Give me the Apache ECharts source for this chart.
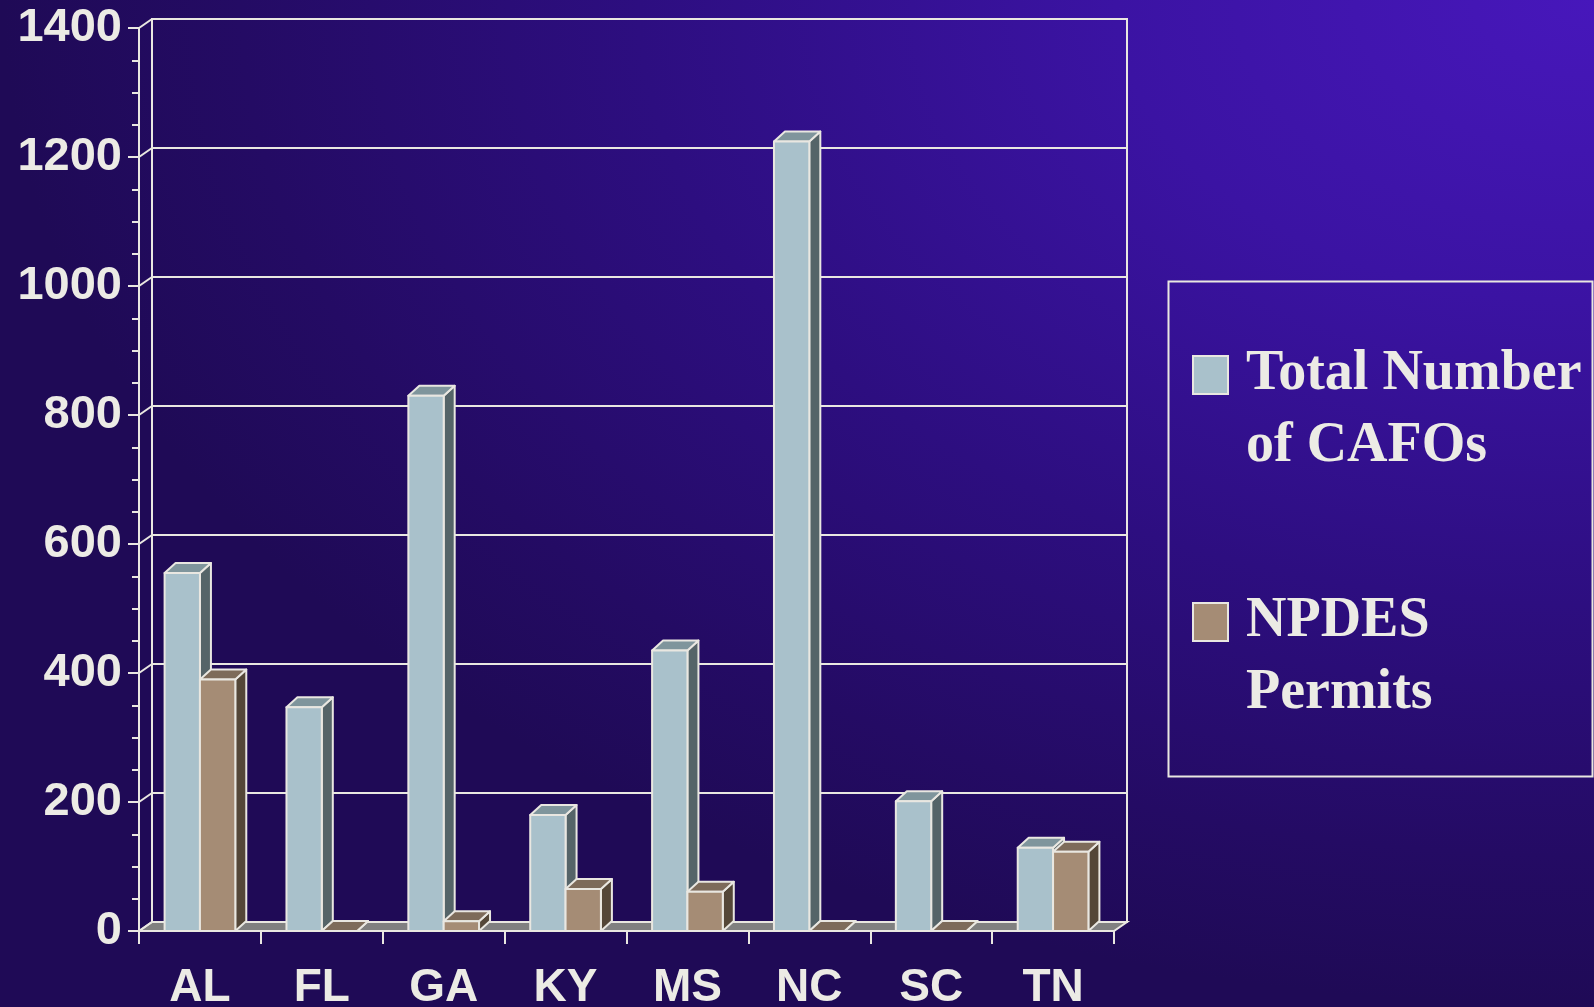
<!DOCTYPE html>
<html><head><meta charset="utf-8">
<script src="https://cdn.jsdelivr.net/npm/echarts@6/dist/echarts.min.js"></script>
<style>html,body{margin:0;padding:0;background:#1f0a55;}#c{width:1594px;height:1007px;}</style>
</head><body><div id="c"></div>
<script>
// ---- data ----
const states = ['AL', 'FL', 'GA', 'KY', 'MS', 'NC', 'SC', 'TN'];
const cafos = [555, 347, 830, 180, 435, 1224, 201, 129];
const npdes = [390, 0, 15, 65, 61, 0, 0, 123];
const yTicks = [0, 200, 400, 600, 800, 1000, 1200, 1400];
const seriesNames = ['Total Number of CAFOs', 'NPDES Permits'];
const legendLines = ['Total Number\nof CAFOs', 'NPDES\nPermits'];

// ---- style ----
const EDGE = '#e9e7e1';
const TEXT = '#ecebe5';
const faces = [
  { front: '#a9c1cb', top: '#7f959c', side: '#556468' },
  { front: '#a58c75', top: '#7d6b5a', side: '#544738' }
];
const WALL_DX = 13, WALL_DY = -9;
const BAR_DX = 11, BAR_DY = -10;

function barRender(si) {
  return function (params, api) {
    const idx = api.value(0), val = api.value(1);
    const base = api.coord([idx, 0]);
    const topP = api.coord([idx, val]);
    const cw = api.size([1, 0])[0];
    const bw = cw * 0.29;
    const xl = base[0] - bw + si * bw;
    const xr = xl + bw;
    const yb = base[1], yt = topP[1];
    const c = faces[si];
    const st = { stroke: EDGE, lineWidth: 2, lineJoin: 'round' };
    return {
      type: 'group',
      children: [
        { type: 'polygon', shape: { points: [[xr, yb], [xr + BAR_DX, yb + BAR_DY], [xr + BAR_DX, yt + BAR_DY], [xr, yt]] }, style: Object.assign({ fill: c.side }, st) },
        { type: 'polygon', shape: { points: [[xl, yt], [xl + BAR_DX, yt + BAR_DY], [xr + BAR_DX, yt + BAR_DY], [xr, yt]] }, style: Object.assign({ fill: c.top }, st) },
        { type: 'rect', shape: { x: xl, y: yt, width: bw, height: yb - yt }, style: Object.assign({ fill: c.front }, st) }
      ]
    };
  };
}

const chart = echarts.init(document.getElementById('c'), null, { renderer: 'canvas' });
const yMax = yTicks[yTicks.length - 1];
const yInt = yTicks[1] - yTicks[0];

chart.setOption({
  backgroundColor: '#1f0a55',
  animation: false,
  graphic: [
    {
      type: 'group', x: 0, y: 0, scaleX: 1.58, z: -100, silent: true,
      children: [{
        type: 'rect', z: -100,
        shape: { x: 0, y: 0, width: 1594 / 1.58, height: 1007 },
        style: {
          fill: {
            type: 'radial', x: 1, y: 0, r: 1,
            colorStops: [
              { offset: 0, color: '#4717bb' },
              { offset: 0.3, color: '#3b13a3' },
              { offset: 0.6, color: '#2d0e80' },
              { offset: 0.85, color: '#240b64' },
              { offset: 1, color: '#1f0a56' }
            ]
          }
        }
      }]
    },
    {
      type: 'rect', left: 1166, top: 279, z: 5, silent: true,
      shape: { width: 424, height: 495 },
      style: { fill: 'none', stroke: EDGE, lineWidth: 2 }
    }
  ],
  grid: [
    { left: 139, right: 480, top: 28, bottom: 76, outerBoundsMode: 'none', containLabel: false },
    { left: 139 + WALL_DX, right: 480 - WALL_DX, top: 28 + WALL_DY, bottom: 76 - WALL_DY,
      outerBoundsMode: 'none', containLabel: false,
      show: true, borderColor: EDGE, borderWidth: 2, backgroundColor: 'transparent' }
  ],
  xAxis: [
    {
      gridIndex: 0, type: 'category', data: states,
      axisLine: { show: true, lineStyle: { color: EDGE, width: 2 } },
      axisTick: { show: true, length: 13, lineStyle: { color: EDGE, width: 2 } },
      axisLabel: { color: TEXT, fontFamily: 'Liberation Sans', fontWeight: 'bold', fontSize: 46, margin: 34 },
      splitLine: { show: false }
    },
    { gridIndex: 1, type: 'category', data: states, show: false }
  ],
  yAxis: [
    {
      gridIndex: 0, type: 'value', min: 0, max: yMax, interval: yInt,
      axisLine: { show: true, lineStyle: { color: EDGE, width: 2 } },
      axisTick: { show: true, length: 11, lineStyle: { color: EDGE, width: 2 } },
      minorTick: { show: true, splitNumber: 4, length: 7, lineStyle: { color: EDGE, width: 2 } },
      axisLabel: { color: TEXT, fontFamily: 'Liberation Sans', fontWeight: 'bold', fontSize: 47, margin: 17,
        formatter: v => String(v) },
      splitLine: { show: false }
    },
    {
      gridIndex: 1, type: 'value', min: 0, max: yMax, interval: yInt,
      axisLine: { show: false }, axisTick: { show: false }, axisLabel: { show: false },
      splitLine: { show: true, lineStyle: { color: EDGE, width: 2 } }
    }
  ],
  legend: {
    orient: 'vertical', left: 1192, top: 267, padding: 0,
    itemGap: 31, itemWidth: 35, itemHeight: 38, icon: 'rect',
    selectedMode: false,
    data: seriesNames.map((n, i) => ({
      name: n,
      itemStyle: { color: faces[i].front, borderColor: EDGE, borderWidth: 2 }
    })),
    formatter: n => '\n' + legendLines[seriesNames.indexOf(n)],
    textStyle: {
      color: TEXT, fontFamily: 'Liberation Serif', fontWeight: 'bold',
      fontSize: 56, lineHeight: 72, padding: [0, 0, 0, 13]
    }
  },
  series: [
    {
      name: 'floor', type: 'custom', xAxisIndex: 0, yAxisIndex: 0, z: 1, silent: true,
      data: [[0, 0]],
      renderItem: function (params, api) {
        const cs = params.coordSys;
        const y0 = api.coord([0, 0])[1];
        return {
          type: 'polygon',
          shape: { points: [[cs.x, y0], [cs.x + WALL_DX, y0 + WALL_DY], [cs.x + cs.width + WALL_DX, y0 + WALL_DY], [cs.x + cs.width, y0]] },
          style: { fill: '#808080', stroke: EDGE, lineWidth: 2 }
        };
      }
    },
    {
      name: 'connectors', type: 'custom', xAxisIndex: 0, yAxisIndex: 0, z: 1, silent: true,
      data: yTicks.map(v => [0, v]),
      renderItem: function (params, api) {
        const cs = params.coordSys;
        const y = api.coord([0, api.value(1)])[1];
        return {
          type: 'line',
          shape: { x1: cs.x, y1: y, x2: cs.x + WALL_DX, y2: y + WALL_DY },
          style: { stroke: EDGE, lineWidth: 2 }
        };
      }
    },
    {
      name: seriesNames[0], type: 'custom', xAxisIndex: 0, yAxisIndex: 0, z: 3,
      itemStyle: { color: faces[0].front },
      encode: { x: 0, y: 1 },
      data: cafos.map((v, i) => [i, v]),
      renderItem: barRender(0)
    },
    {
      name: seriesNames[1], type: 'custom', xAxisIndex: 0, yAxisIndex: 0, z: 4,
      itemStyle: { color: faces[1].front },
      encode: { x: 0, y: 1 },
      data: npdes.map((v, i) => [i, v]),
      renderItem: barRender(1)
    }
  ]
});
</script>
</body></html>
